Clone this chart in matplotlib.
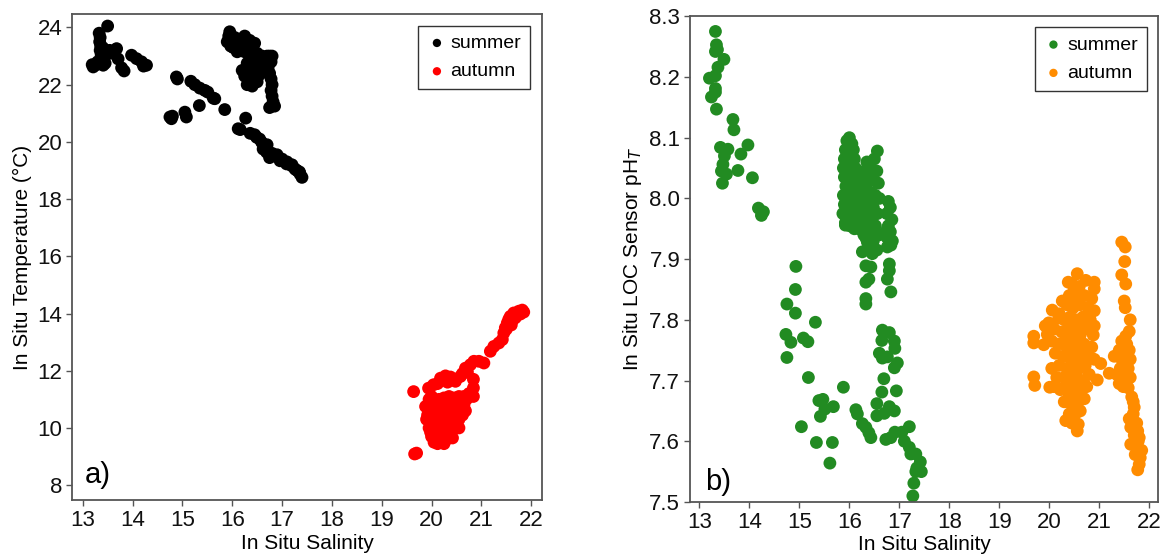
import matplotlib
matplotlib.use('Agg')
import matplotlib.pyplot as plt

plt.rcParams['font.family'] = ['Liberation Sans', 'DejaVu Sans']

# ---- panel a) : salinity vs temperature ----
summer_ts = [
    # cluster near 13-14 psu
    (13.21, 22.62), (13.19, 22.7), (13.25, 22.68), (13.33, 23.8), (13.35, 23.65),
    (13.34, 23.5), (13.36, 23.35), (13.35, 23.2), (13.37, 23.05), (13.36, 22.9),
    (13.38, 22.8), (13.5, 24.05), (13.41, 22.68), (13.45, 23.0), (13.54, 23.2),
    (13.68, 23.26), (13.6, 23.1), (13.71, 22.9), (13.78, 22.59), (13.83, 22.48),
    (13.98, 23.03), (14.08, 22.91), (14.18, 22.8), (14.28, 22.68), (14.22, 22.65),
    (13.45, 22.75), (13.3, 22.8), (13.4, 23.3),
    # diagonal band
    (14.75, 20.87), (14.78, 20.81), (14.8, 20.9), (14.88, 22.27), (14.9, 22.2),
    (15.05, 21.04), (15.08, 20.87), (15.17, 22.12), (15.25, 22.0), (15.35, 21.88),
    (15.45, 21.8), (15.51, 21.74), (15.34, 21.27), (15.62, 21.53), (15.65, 21.51),
    (15.85, 21.13), (16.27, 20.83), (16.12, 20.46), (16.16, 20.43), (16.36, 20.3),
    (16.49, 20.16), (16.59, 19.99), (16.62, 19.75), (16.69, 19.64), (16.83, 19.52),
    (16.96, 19.34), (17.09, 19.23), (17.19, 19.17), (17.26, 19.05), (17.36, 18.88),
    (17.4, 18.76), (16.7, 19.9), (16.8, 19.6), (17.0, 19.4), (17.1, 19.3),
    (16.65, 19.85), (16.9, 19.55), (17.3, 19.0), (17.35, 18.95), (17.2, 19.2),
    (16.75, 19.45), (16.55, 20.1), (16.45, 20.25),
    # dense cluster 16-17 psu
    (15.95, 23.85), (15.93, 23.7), (15.98, 23.6), (15.9, 23.5), (16.0, 23.45),
    (16.05, 23.65), (16.1, 23.55), (16.15, 23.4), (16.02, 23.3), (15.97, 23.35),
    (16.2, 23.6), (16.25, 23.7), (16.3, 23.5), (16.35, 23.55), (16.4, 23.4),
    (16.45, 23.45), (16.2, 23.3), (16.25, 23.15), (16.3, 23.2), (16.1, 23.15),
    (16.35, 23.0), (16.4, 22.85), (16.45, 22.7), (16.5, 22.55), (16.3, 22.75),
    (16.35, 22.6), (16.2, 22.5), (16.25, 22.3), (16.4, 22.4), (16.45, 22.2),
    (16.5, 22.1), (16.55, 22.35), (16.3, 22.0), (16.4, 21.95), (16.6, 22.5),
    (16.62, 22.7), (16.65, 22.9), (16.7, 23.0), (16.75, 23.0), (16.8, 23.0),
    (16.78, 22.8), (16.72, 22.6), (16.75, 22.4), (16.78, 22.2), (16.8, 22.0),
    (16.78, 21.8), (16.8, 21.6), (16.82, 21.4), (16.85, 21.25), (16.75, 21.2),
    (16.55, 22.8), (16.5, 23.1), (16.6, 23.0),
]

autumn_ts = [
    (19.64, 11.27), (19.66, 9.09), (19.7, 9.12),
    (19.94, 11.39), (20.04, 11.51), (20.18, 11.74), (20.28, 11.82), (20.38, 11.78),
    (20.48, 11.63), (20.58, 11.8), (20.68, 12.09), (20.78, 12.21), (20.85, 12.33),
    (20.95, 12.33), (21.05, 12.27), (20.84, 11.7), (20.84, 11.4), (20.84, 11.1),
    (20.12, 11.55), (20.32, 11.6), (20.62, 11.9), (20.72, 11.95),
    (21.18, 12.68), (21.25, 12.85), (21.35, 12.97), (21.42, 13.09), (21.45, 13.32),
    (21.48, 13.5), (21.52, 13.67), (21.58, 13.9), (21.65, 14.02), (21.75, 14.08),
    (21.82, 14.12), (21.85, 14.05), (21.55, 13.8), (21.6, 13.6), (21.7, 13.95),
    (21.62, 13.75), (21.68, 13.85), (21.5, 13.45), (21.78, 13.98),
    (19.9, 10.3), (19.95, 10.0), (20.0, 9.7), (20.05, 9.5), (20.1, 9.6),
    (20.15, 9.8), (20.2, 9.6), (20.25, 9.9), (20.3, 10.1), (20.35, 9.7),
    (20.4, 9.9), (20.0, 10.5), (20.05, 10.2), (20.1, 10.4), (20.15, 10.1),
    (20.2, 10.3), (20.25, 10.6), (20.3, 10.5), (20.35, 10.4), (20.4, 10.2),
    (20.45, 10.6), (20.5, 10.5), (20.55, 10.7), (20.6, 10.9), (20.65, 10.8),
    (20.5, 10.9), (20.4, 10.8), (20.3, 10.9), (20.2, 10.8), (20.1, 10.9),
    (20.0, 10.95), (19.95, 11.0), (20.15, 11.0), (20.45, 11.05), (20.55, 10.3),
    (20.6, 10.6), (20.7, 11.0), (20.75, 11.2), (20.1, 9.9), (20.2, 10.05),
    (20.3, 10.25), (20.25, 10.15), (20.35, 10.55), (20.45, 10.35), (19.95, 10.6),
    (20.05, 9.9), (20.15, 9.5), (20.3, 9.6),
    (19.88, 10.75), (19.92, 10.45), (20.02, 10.7), (20.12, 10.65), (20.22, 10.55),
    (20.32, 10.7), (20.42, 10.5), (20.52, 10.75), (20.62, 10.45), (20.68, 10.6),
    (20.08, 10.15), (20.18, 9.95), (20.28, 9.8), (20.38, 10.05), (20.48, 10.15),
    (19.98, 9.85), (20.12, 9.45), (20.25, 9.45), (20.42, 9.65), (20.55, 10.0),
    (20.0, 11.1), (20.25, 11.05), (20.35, 11.1), (20.55, 11.1), (20.65, 11.1),
]

# ---- panel b) : salinity vs pH ----
summer_ph = [
    (13.32, 8.275), (13.34, 8.253), (13.36, 8.245), (13.32, 8.242), (13.49, 8.229),
    (13.37, 8.216), (13.2, 8.198), (13.32, 8.202), (13.32, 8.181), (13.32, 8.175),
    (13.24, 8.167), (13.34, 8.147), (13.67, 8.13), (13.69, 8.113), (13.42, 8.084),
    (13.57, 8.081), (13.5, 8.07), (13.47, 8.056), (13.44, 8.045), (13.54, 8.04),
    (13.46, 8.025), (13.97, 8.088), (13.83, 8.073), (13.77, 8.046), (14.06, 8.034),
    (14.18, 7.984), (14.28, 7.978), (14.24, 7.972),
    (14.93, 7.888), (14.92, 7.85), (14.75, 7.826), (14.92, 7.811), (15.32, 7.796),
    (14.73, 7.776), (14.83, 7.763), (15.08, 7.77), (15.17, 7.764), (14.75, 7.738),
    (15.18, 7.705), (15.88, 7.689), (15.39, 7.667), (15.47, 7.669), (15.51, 7.653),
    (15.42, 7.641), (15.68, 7.657), (15.04, 7.624), (15.34, 7.598), (15.66, 7.598),
    (15.61, 7.564), (16.13, 7.652), (16.16, 7.645), (16.26, 7.629), (16.33, 7.623),
    (16.39, 7.614), (16.43, 7.606),
    (16.66, 7.783), (16.8, 7.779), (16.65, 7.766), (16.9, 7.765), (16.91, 7.753),
    (16.6, 7.745), (16.66, 7.737), (16.76, 7.739), (16.96, 7.729), (16.9, 7.721),
    (16.69, 7.703), (16.94, 7.683), (16.65, 7.681), (16.55, 7.662), (16.8, 7.657),
    (16.9, 7.65), (16.7, 7.646), (16.55, 7.642),
    (16.73, 7.603), (16.83, 7.606), (16.91, 7.615), (17.05, 7.615), (17.2, 7.624),
    (17.1, 7.6), (17.2, 7.59), (17.23, 7.579), (17.33, 7.579), (17.42, 7.566),
    (17.35, 7.556), (17.44, 7.55), (17.33, 7.55), (17.29, 7.531), (17.27, 7.51),
    (15.92, 7.956), (16.19, 7.95), (16.29, 7.94), (16.36, 7.928), (16.26, 7.912),
    (16.46, 7.909), (16.76, 7.95), (16.8, 7.934), (16.83, 7.923), (16.76, 7.92),
    (16.33, 7.889), (16.43, 7.887), (16.8, 7.892), (16.8, 7.881), (16.76, 7.867),
    (16.83, 7.846), (16.33, 7.862), (16.39, 7.867), (16.33, 7.835), (16.33, 7.826),
    (15.95, 8.095), (16.0, 8.1), (16.05, 8.09), (15.92, 8.08), (15.98, 8.075),
    (16.08, 8.08), (15.9, 8.065), (15.95, 8.06), (16.02, 8.06), (16.1, 8.065),
    (15.88, 8.05), (15.96, 8.045), (16.04, 8.04), (16.12, 8.05), (15.9, 8.035),
    (16.0, 8.03), (16.08, 8.025), (16.15, 8.035), (15.93, 8.02), (16.02, 8.015),
    (16.1, 8.01), (16.18, 8.02), (15.88, 8.005), (15.96, 8.0), (16.05, 7.995),
    (16.14, 8.0), (16.2, 8.005), (15.9, 7.99), (15.98, 7.985), (16.08, 7.98),
    (16.16, 7.985), (15.87, 7.975), (15.95, 7.97), (16.03, 7.965), (16.12, 7.97),
    (16.22, 7.975), (15.92, 7.96), (16.0, 7.955), (16.1, 7.95), (16.2, 7.96),
    (16.56, 8.078), (16.5, 8.065), (16.35, 8.06), (16.42, 8.05), (16.3, 8.045),
    (16.55, 8.045), (16.38, 8.035), (16.47, 8.03), (16.28, 8.025), (16.58, 8.025),
    (16.33, 8.015), (16.43, 8.01), (16.52, 8.005), (16.3, 8.0), (16.6, 8.0),
    (16.38, 7.99), (16.48, 7.985), (16.27, 7.98), (16.56, 7.975), (16.35, 7.97),
    (16.45, 7.965), (16.3, 7.955), (16.52, 7.955), (16.4, 7.945), (16.6, 7.94),
    (16.33, 7.935), (16.48, 7.93), (16.42, 7.92), (16.55, 7.915),
    (16.78, 7.995), (16.82, 7.985), (16.75, 7.975), (16.85, 7.965), (16.78, 7.955),
    (16.82, 7.945), (16.76, 7.935), (16.86, 7.93),
]

autumn_ph = [
    (19.69, 7.773), (19.69, 7.762), (19.89, 7.759), (19.69, 7.706), (19.71, 7.692),
    (20.06, 7.816), (20.19, 7.803), (19.99, 7.795), (19.96, 7.776), (19.92, 7.79),
    (20.26, 7.831), (20.38, 7.862), (20.56, 7.876), (20.73, 7.865), (20.9, 7.862),
    (20.9, 7.851), (20.33, 7.634), (20.56, 7.617), (20.01, 7.689), (20.26, 7.687),
    (20.96, 7.701), (21.03, 7.728), (21.2, 7.712), (21.3, 7.74),
    (20.45, 7.86), (20.5, 7.85), (20.6, 7.855), (20.4, 7.84), (20.55, 7.835),
    (20.7, 7.84), (20.85, 7.835), (20.35, 7.825), (20.48, 7.82), (20.62, 7.825),
    (20.78, 7.82), (20.9, 7.815), (20.2, 7.81), (20.3, 7.8), (20.42, 7.805),
    (20.55, 7.8), (20.68, 7.805), (20.82, 7.8), (20.9, 7.79), (20.1, 7.785),
    (20.25, 7.78), (20.38, 7.785), (20.5, 7.78), (20.62, 7.775), (20.75, 7.785),
    (20.88, 7.775), (20.05, 7.765), (20.18, 7.76), (20.32, 7.765), (20.45, 7.76),
    (20.58, 7.755), (20.7, 7.76), (20.85, 7.755), (20.12, 7.745), (20.28, 7.74),
    (20.4, 7.745), (20.52, 7.74), (20.65, 7.745), (20.78, 7.74), (20.9, 7.735),
    (20.2, 7.725), (20.35, 7.72), (20.48, 7.725), (20.6, 7.72), (20.72, 7.725),
    (20.05, 7.72), (20.15, 7.705), (20.3, 7.705), (20.42, 7.7), (20.55, 7.705),
    (20.68, 7.7), (20.8, 7.71), (20.1, 7.69), (20.22, 7.685), (20.38, 7.68),
    (20.5, 7.685), (20.62, 7.68), (20.75, 7.69), (20.3, 7.665), (20.45, 7.66),
    (20.58, 7.665), (20.7, 7.67), (20.4, 7.645), (20.52, 7.645), (20.62, 7.65),
    (20.45, 7.63), (20.58, 7.628),
    (20.42, 7.77), (20.55, 7.77), (20.48, 7.75), (20.6, 7.735), (20.52, 7.71),
    (20.44, 7.69), (20.56, 7.69), (20.5, 7.67), (20.62, 7.7), (20.5, 7.8),
    (20.6, 7.79), (20.45, 7.73), (20.35, 7.755), (20.65, 7.76), (20.52, 7.655),
    (21.45, 7.928), (21.52, 7.92), (21.51, 7.896), (21.45, 7.874), (21.53, 7.859),
    (21.5, 7.831), (21.52, 7.82), (21.62, 7.8), (21.6, 7.781), (21.53, 7.773),
    (21.45, 7.765), (21.55, 7.76), (21.4, 7.75), (21.5, 7.745), (21.6, 7.75),
    (21.45, 7.735), (21.55, 7.73), (21.62, 7.735), (21.42, 7.72), (21.5, 7.715),
    (21.58, 7.72), (21.35, 7.71), (21.45, 7.705), (21.55, 7.7), (21.62, 7.705),
    (21.48, 7.69), (21.58, 7.688), (21.4, 7.695), (21.65, 7.673), (21.7, 7.656),
    (21.6, 7.637), (21.63, 7.623), (21.77, 7.617), (21.63, 7.595), (21.8, 7.606),
    (21.72, 7.578), (21.82, 7.573), (21.77, 7.553), (21.8, 7.562), (21.68, 7.645),
    (21.75, 7.63), (21.7, 7.61), (21.75, 7.59), (21.85, 7.585), (21.78, 7.6),
    (21.68, 7.665), (21.72, 7.625),
]

sal_ticks = list(range(13, 23))
temp_ticks = [8, 10, 12, 14, 16, 18, 20, 22, 24]
ph_ticks = [7.5, 7.6, 7.7, 7.8, 7.9, 8.0, 8.1, 8.2, 8.3]

spine_col = '#555555'
msize = 85


def style(ax):
    for sp in ax.spines.values():
        sp.set_color(spine_col)
        sp.set_linewidth(1.3)
    ax.tick_params(direction='out', length=4, width=1, color=spine_col,
                   labelsize=16, labelcolor='#111111', pad=3)


fig = plt.figure(figsize=(11.73, 5.59), dpi=100)
ax1 = fig.add_axes([0.0616, 0.1055, 0.4002, 0.8694])
ax2 = fig.add_axes([0.5882, 0.102, 0.3992, 0.870])

ax1.scatter([p[0] for p in summer_ts], [p[1] for p in summer_ts], s=msize,
            color='black', edgecolors='none', label='summer')
ax1.scatter([p[0] for p in autumn_ts], [p[1] for p in autumn_ts], s=msize,
            color='red', edgecolors='none', label='autumn')
ax1.set_xlim(12.79, 22.21)
ax1.set_ylim(7.48, 24.47)
ax1.set_xticks(sal_ticks)
ax1.set_yticks(temp_ticks)
ax1.set_xlabel('In Situ Salinity', fontsize=15, labelpad=2)
ax1.set_ylabel('In Situ Temperature (\u00b0C)', fontsize=15, labelpad=4)
ax1.text(0.027, 0.035, 'a)', transform=ax1.transAxes, fontsize=21)
style(ax1)

ax2.scatter([p[0] for p in summer_ph], [p[1] for p in summer_ph], s=msize,
            color='#228B22', edgecolors='none', label='summer')
ax2.scatter([p[0] for p in autumn_ph], [p[1] for p in autumn_ph], s=msize,
            color='#FF8C00', edgecolors='none', label='autumn')
ax2.set_xlim(12.81, 22.18)
ax2.set_ylim(7.5, 8.301)
ax2.set_xticks(sal_ticks)
ax2.set_yticks(ph_ticks)
ax2.set_yticklabels(['%.1f' % v for v in ph_ticks])
ax2.set_xlabel('In Situ Salinity', fontsize=15, labelpad=2)
ax2.set_ylabel('In Situ LOC Sensor pH$_T$', fontsize=15, labelpad=4)
ax2.text(0.032, 0.025, 'b)', transform=ax2.transAxes, fontsize=21)
style(ax2)

for ax in (ax1, ax2):
    leg = ax.legend(loc='upper right', fontsize=14, markerscale=0.65,
                    handletextpad=0.2, handlelength=1.0, borderpad=0.45,
                    labelspacing=0.55, fancybox=False, framealpha=1,
                    borderaxespad=0.6)
    leg.get_frame().set_edgecolor('#333333')
    leg.get_frame().set_linewidth(1.0)

fig.savefig('out.png', dpi=100)
